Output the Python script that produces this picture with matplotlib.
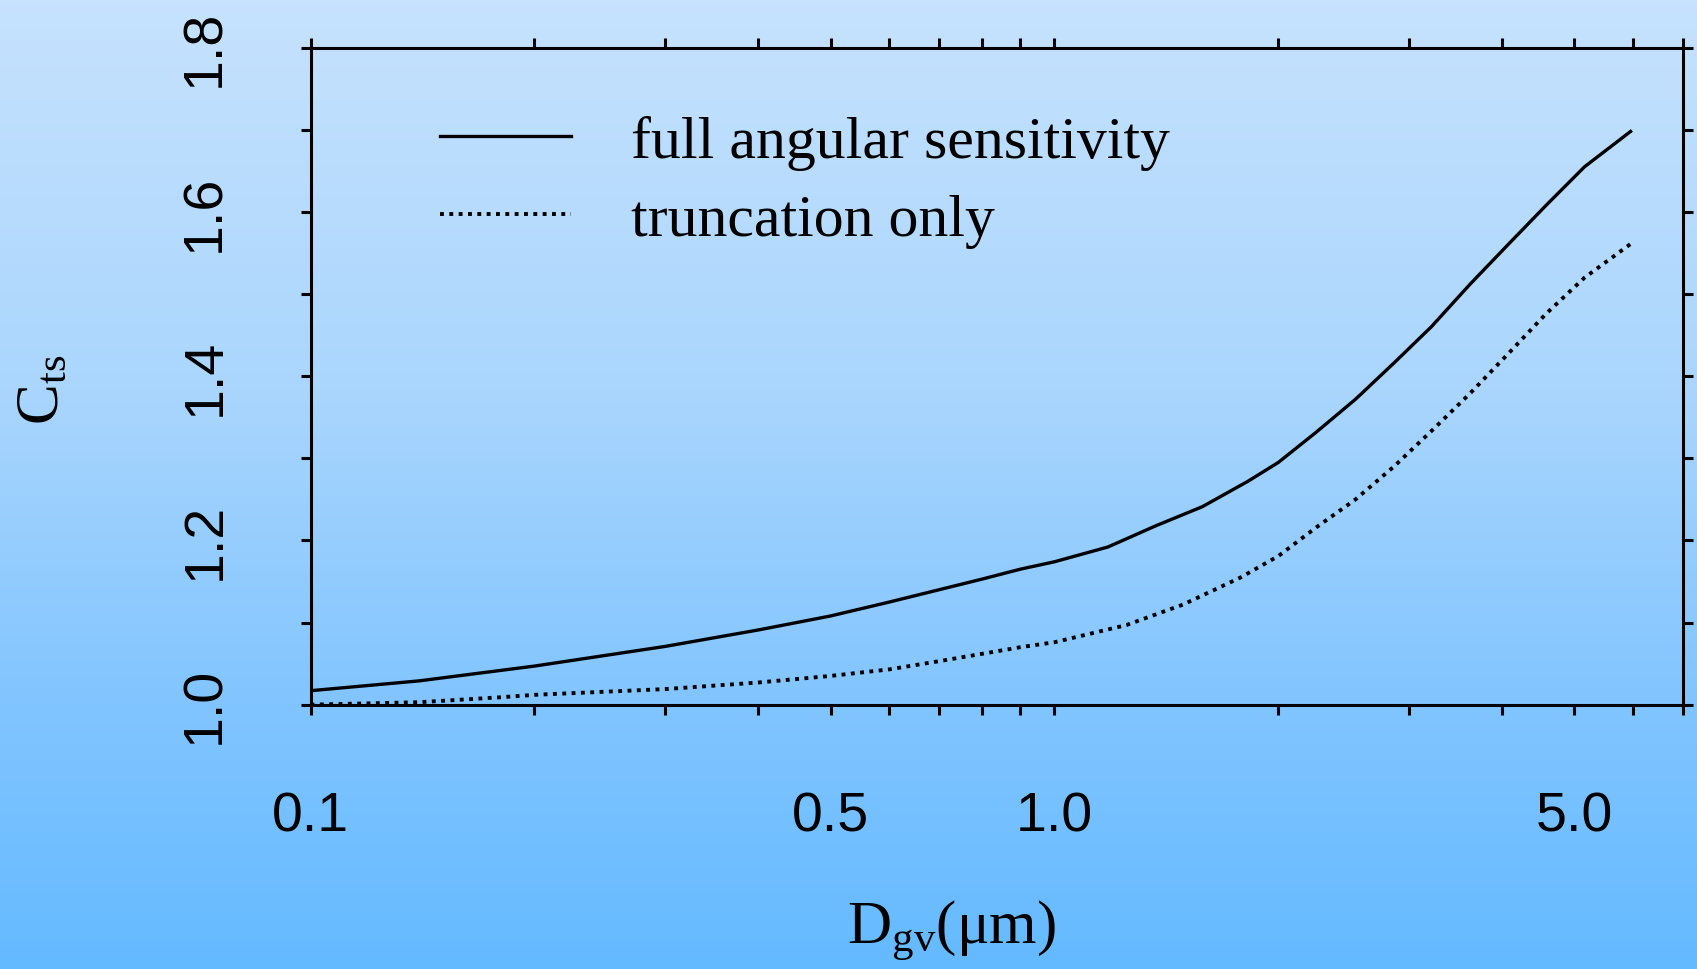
import numpy as np
import matplotlib
matplotlib.use('Agg')
import matplotlib.pyplot as plt
from matplotlib.colors import LinearSegmentedColormap

# geometric mean volume diameter (um) and the two correction curves
d_full = [0.10, 0.14, 0.20, 0.30, 0.40, 0.50, 0.60, 0.70, 0.80, 0.90, 1.00,
          1.18, 1.37, 1.58, 1.82, 2.00, 2.25, 2.54, 2.86, 3.21, 3.62, 4.07,
          4.58, 5.16, 5.95]
c_full = [1.017, 1.029, 1.047, 1.071, 1.091, 1.108, 1.125, 1.140, 1.153, 1.165,
          1.174, 1.192, 1.218, 1.241, 1.272, 1.295, 1.332, 1.372, 1.416, 1.460,
          1.512, 1.560, 1.608, 1.655, 1.698]

d_trunc = [0.10, 0.14, 0.18, 0.20, 0.30, 0.40, 0.50, 0.60, 0.70, 0.80, 0.90,
           1.00, 1.25, 1.49, 1.78, 2.00, 2.25, 2.54, 2.86, 3.21, 3.62, 4.07,
           4.58, 5.16, 5.95]
c_trunc = [1.000, 1.003, 1.009, 1.012, 1.019, 1.027, 1.035, 1.043, 1.053, 1.062,
           1.070, 1.076, 1.097, 1.122, 1.155, 1.181, 1.216, 1.250, 1.290, 1.333,
           1.379, 1.427, 1.476, 1.520, 1.561]

series_labels = ['full angular sensitivity', 'truncation only']

x_ticks = [0.1, 0.2, 0.3, 0.4, 0.5, 0.6, 0.7, 0.8, 0.9, 1, 2, 3, 4, 5, 6, 7]
x_ticklabels = ['0.1', '', '', '', '0.5', '', '', '', '', '1.0', '', '', '', '5.0', '', '']
y_ticks = [1.0, 1.1, 1.2, 1.3, 1.4, 1.5, 1.6, 1.7, 1.8]
y_ticklabels = ['1.0', '', '1.2', '', '1.4', '', '1.6', '', '1.8']

plt.rcParams['mathtext.fontset'] = 'custom'
plt.rcParams['mathtext.rm'] = 'Liberation Serif'
plt.rcParams['mathtext.it'] = 'Liberation Serif:italic'

fig = plt.figure(figsize=(16.97, 9.70), dpi=100)

# blue vertical gradient behind everything
bg = fig.add_axes([0, 0, 1, 1], zorder=-10)
cmap = LinearSegmentedColormap.from_list(
    'sky', [(0.0, '#c6e2fd'), (0.4, '#aad6fd'), (0.72, '#82c5ff'), (1.0, '#64baff')])
grad = np.linspace(0, 1, 256).reshape(-1, 1)
bg.imshow(grad, aspect='auto', cmap=cmap, extent=[0, 1, 0, 1], origin='upper')
bg.set_axis_off()

ax = fig.add_axes([0.183, 0.2725, 0.8088, 0.6773])
ax.set_facecolor('none')

ax.plot(d_full, c_full, color='black', lw=2.4, label=series_labels[0])
ax.plot(d_trunc, c_trunc, color='black', lw=2.8, linestyle=(0, (1, 1.4)),
        label=series_labels[1], clip_on=False)

ax.set_xscale('log')
ax.set_xlim(0.1, 7)
ax.set_ylim(1.0, 1.8)

ax.set_xticks(x_ticks)
ax.set_xticklabels(x_ticklabels)
ax.xaxis.set_minor_locator(matplotlib.ticker.NullLocator())
ax.set_yticks(y_ticks)
ax.set_yticklabels(y_ticklabels)

for s in ax.spines.values():
    s.set_linewidth(2.2)

ax.tick_params(axis='both', which='both', direction='out', length=7, width=2.2,
               top=True, right=True, labelsize=40)
ax.tick_params(axis='x', pad=55)
ax.tick_params(axis='y', pad=50, labelrotation=90)
for lab in ax.get_xticklabels() + ax.get_yticklabels():
    lab.set_fontfamily('Liberation Sans')
for lab in ax.get_yticklabels():
    lab.set_va('center')

ax.set_xlabel('D$_{\\mathrm{gv}}$(\u03bcm)', family='Liberation Serif', fontsize=44)
ax.xaxis.set_label_coords(0.467, -0.342)
ax.xaxis.label.set_va('center')
ax.set_ylabel('C$_{\\mathrm{ts}}$', family='Liberation Serif', fontsize=44)
ax.yaxis.set_label_coords(-0.195, 0.48)
ax.yaxis.label.set_va('center')

ax.legend(loc='upper left', bbox_to_anchor=(0.094, 0.897), frameon=False,
          prop={'family': 'Liberation Serif', 'size': 43},
          handlelength=2.2, handletextpad=1.0, labelspacing=0.38,
          borderpad=0, borderaxespad=0)

fig.savefig('out.png', dpi=100)
